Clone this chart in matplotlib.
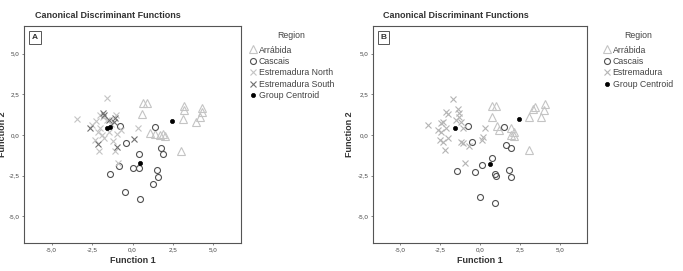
import matplotlib
matplotlib.use("Agg")
import matplotlib.pyplot as plt
from matplotlib.ticker import FuncFormatter

plt.rcParams['font.family'] = ['Liberation Sans', 'DejaVu Sans']

# panel A: discriminant scores (function 1, function 2)
a_arrabida = [(0.64, 1.98), (0.90, 1.94), (0.58, 1.30), (1.05, 0.12), (1.42, 0.06),
              (1.71, 0.00), (2.02, -0.06), (1.88, 0.08), (3.21, 1.75), (3.15, 1.53),
              (3.10, 0.95), (3.93, 0.82), (4.14, 1.12), (4.28, 1.63), (4.28, 1.43),
              (3.00, -0.98)]
a_cascais = [(-0.76, 0.57), (1.42, 0.51), (-0.41, -0.51), (0.39, -1.18), (1.75, -0.78),
             (1.91, -1.18), (-0.84, -1.94), (0.06, -2.04), (0.39, -2.04), (1.50, -2.15),
             (1.56, -2.56), (-1.36, -2.41), (1.25, -3.00), (-0.45, -3.52), (0.47, -3.94)]
a_est_north = [(-3.44, 0.98), (-1.59, 2.29), (-1.00, 1.23), (-2.24, 0.86), (-2.03, 0.45),
               (-2.14, 0.20), (-0.97, 0.06), (0.33, 0.41), (-2.08, -0.96), (-0.91, -1.74),
               (-1.85, 1.10), (-1.60, 0.90), (-1.30, 0.70), (-2.30, -0.30), (-1.75, -0.20),
               (-1.20, -0.40), (-0.70, 0.30), (-1.90, 0.00), (-1.45, 0.15), (-2.00, 1.25),
               (-1.10, -1.00), (-2.50, 0.60)]
a_est_south = [(-2.65, 0.41), (-1.83, 1.33), (-1.75, 1.25), (-1.11, 1.02), (-1.17, 0.82),
               (0.08, -0.26), (-2.14, -0.55), (-0.97, -0.75), (-1.45, 0.90)]
a_centroids = [(-1.59, 0.41), (-1.42, 0.47), (2.45, 0.84), (0.45, -1.74)]

# panel B
b_arrabida = [(0.76, 1.78), (1.00, 1.78), (0.76, 1.12), (1.07, 0.55), (1.17, 0.31),
              (1.95, 0.41), (2.10, 0.20), (1.95, 0.00), (2.15, -0.05), (3.05, 1.08),
              (3.33, 1.60), (3.44, 1.70), (3.80, 1.12), (3.99, 1.55), (4.10, 1.92),
              (3.09, -0.95)]
b_cascais = [(-0.74, 0.53), (1.50, 0.47), (-0.47, -0.41), (1.60, -0.63), (1.95, -0.80),
             (0.76, -1.43), (0.14, -1.88), (-1.46, -2.21), (-0.33, -2.29), (0.97, -2.41),
             (1.00, -2.50), (1.83, -2.15), (1.93, -2.62), (0.00, -3.82), (0.93, -4.19)]
b_estremadura = [(-1.67, 2.21), (-3.25, 0.61), (-2.12, 1.43), (-2.02, 1.27), (-1.40, 1.58),
                 (-1.34, 1.33), (-1.30, 1.12), (-1.50, 0.92), (-1.19, 0.82), (-2.33, 0.82),
                 (-2.47, 0.72), (-2.64, 0.31), (-2.43, 0.20), (-2.12, 0.41), (-1.09, 0.41),
                 (-2.53, -0.31), (-2.33, -0.41), (-2.02, -0.20), (-2.22, -0.92), (-1.19, -0.41),
                 (-1.09, -0.51), (-0.72, -0.67), (0.14, -0.31), (0.19, -0.10), (0.31, 0.41),
                 (-0.93, -1.70)]
b_centroids = [(-1.59, 0.41), (2.45, 0.96), (0.64, -1.78)]

ticks = [-5.0, -2.5, 0.0, 2.5, 5.0]

STYLES = {
    "Arrábida": dict(marker="^", mfc="none", mec="#c4c4c4", ms=5.3, mew=0.8),
    "Cascais": dict(marker="o", mfc="none", mec="#505050", ms=4.3, mew=0.8),
    "Estremadura North": dict(marker="x", mec="#c4c4c4", ms=4.6, mew=0.8),
    "Estremadura South": dict(marker="x", mec="#707070", ms=4.6, mew=0.8),
    "Estremadura": dict(marker="x", mec="#b4b4b4", ms=4.6, mew=0.8),
    "Group Centroid": dict(marker="o", mfc="black", mec="black", ms=3.0, mew=0.5),
}


def comma(v, _):
    return f"{v:.1f}".replace(".", ",")


def panel(fig, rect, groups, tag, title_x, ylabel_x, legend_x):
    ax = fig.add_axes(rect)
    for name, pts in groups:
        xs = [p[0] for p in pts]
        ys = [p[1] for p in pts]
        ax.plot(xs, ys, linestyle="none", label=name, **STYLES[name])
    ax.set_xlim(-6.7, 6.7)
    ax.set_ylim(-6.65, 6.7)
    ax.set_xticks(ticks)
    ax.set_yticks(ticks)
    ax.xaxis.set_major_formatter(FuncFormatter(comma))
    ax.yaxis.set_major_formatter(FuncFormatter(comma))
    ax.tick_params(labelsize=4.5, labelcolor="#444444", length=1.5,
                   width=0.5, color="#555555", pad=1.5)
    for s in ax.spines.values():
        s.set_color("#555555")
        s.set_linewidth(0.8)
    ax.text(0.035, 0.965, tag, transform=ax.transAxes, ha="left", va="top",
            fontsize=6, fontweight="bold", color="#333333",
            bbox=dict(boxstyle="square,pad=0.35", fc="white", ec="#555555", lw=0.7))
    ax.set_xlabel("Function 1", fontsize=6.5, fontweight="bold", color="#333333",
                  labelpad=3)
    fig.text(ylabel_x, rect[1] + rect[3] / 2, "Function 2", rotation=90,
             ha="center", va="center", fontsize=6.5, fontweight="bold", color="#333333")
    fig.text(title_x, 0.941, "Canonical Discriminant Functions", ha="left",
             va="center", fontsize=6.5, fontweight="bold", color="#333333")
    leg = ax.legend(loc="upper left", bbox_to_anchor=(legend_x, 1 - 31 / 271),
                    bbox_transform=fig.transFigure, frameon=False, title="Region",
                    fontsize=6.3, title_fontsize=6.3, handlelength=0.8,
                    handletextpad=0.3, labelspacing=0.28, borderpad=0,
                    borderaxespad=0, handleheight=0.8)
    leg._legend_box.sep = 4
    for t in leg.get_texts():
        t.set_color("#444444")
    leg.get_title().set_color("#444444")
    return ax


fig = plt.figure(figsize=(6.83, 2.71), dpi=100)

panel(fig, [24 / 683, 28 / 271, 217 / 683, 217 / 271],
      [("Arrábida", a_arrabida), ("Cascais", a_cascais),
       ("Estremadura North", a_est_north), ("Estremadura South", a_est_south),
       ("Group Centroid", a_centroids)],
      "A", 35 / 683, 3 / 683, 249 / 683)

panel(fig, [373 / 683, 28 / 271, 214 / 683, 217 / 271],
      [("Arrábida", b_arrabida), ("Cascais", b_cascais),
       ("Estremadura", b_estremadura), ("Group Centroid", b_centroids)],
      "B", 383 / 683, 350 / 683, 603 / 683)

fig.savefig("out.png", dpi=100)
